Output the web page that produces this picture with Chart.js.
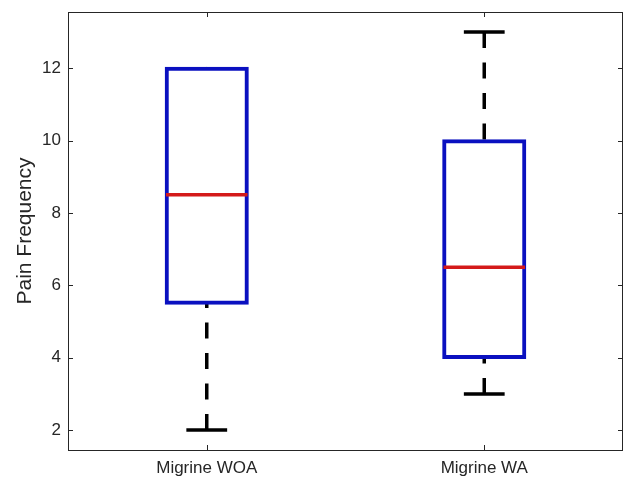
<!DOCTYPE html>
<html>
<head>
<meta charset="utf-8">
<script src="https://cdn.jsdelivr.net/npm/chart.js@4"></script>
<style>
  html, body { margin: 0; padding: 0; background: #fff; }
  #wrap { width: 627px; height: 479px; }
</style>
</head>
<body>
<div id="wrap"><canvas id="grafico" width="627" height="479"></canvas></div>
<script>
const categorias = ['Migrine WOA', 'Migrine WA'];
const quartil1 = [5.5, 4];
const quartil3 = [12, 10];
const mediana = [8.5, 6.5];
const bigodeMin = [2, 3];
const bigodeMax = [12, 13];
const yTicks = [2, 4, 6, 8, 10, 12];

const corEixo = '#262626';

// desenha bigodes (antes das caixas), mediana, moldura e ticks internos
const boxplotPlugin = {
  id: 'boxplot',
  beforeDatasetsDraw(chart) {
    const { ctx, scales: { x, y } } = chart;
    const meta = chart.getDatasetMeta(0);
    ctx.save();
    ctx.strokeStyle = '#000';
    ctx.lineWidth = 3.5;
    categorias.forEach((c, i) => {
      const px = x.getPixelForValue(i);
      const w = meta.data[i].width;
      // linha tracejada, do cap ate a caixa
      ctx.setLineDash([16, 14.5]);
      ctx.beginPath();
      ctx.moveTo(px, y.getPixelForValue(bigodeMax[i]));
      ctx.lineTo(px, y.getPixelForValue(quartil3[i]));
      ctx.stroke();
      ctx.beginPath();
      ctx.moveTo(px, y.getPixelForValue(bigodeMin[i]));
      ctx.lineTo(px, y.getPixelForValue(quartil1[i]));
      ctx.stroke();
      // caps (so quando o bigode sai da caixa)
      ctx.setLineDash([]);
      ctx.beginPath();
      [bigodeMin[i], bigodeMax[i]].forEach(v => {
        if (v === quartil1[i] || v === quartil3[i]) return;
        const py = y.getPixelForValue(v);
        ctx.moveTo(px - w / 4, py);
        ctx.lineTo(px + w / 4, py);
      });
      ctx.stroke();
    });
    ctx.restore();
  },
  afterDatasetsDraw(chart) {
    const { ctx, chartArea: a, scales: { x, y } } = chart;
    const meta = chart.getDatasetMeta(0);
    ctx.save();
    ctx.strokeStyle = '#d41a1a';
    ctx.lineWidth = 3.5;
    categorias.forEach((c, i) => {
      const px = x.getPixelForValue(i);
      const w = meta.data[i].width;
      const py = y.getPixelForValue(mediana[i]);
      ctx.beginPath();
      ctx.moveTo(px - w / 2, py);
      ctx.lineTo(px + w / 2, py);
      ctx.stroke();
    });
    // moldura
    ctx.strokeStyle = corEixo;
    ctx.lineWidth = 1;
    ctx.strokeRect(a.left + 0.5, a.top + 0.5, a.right - a.left - 1, a.bottom - a.top);
    // ticks internos
    const t = 5;
    ctx.beginPath();
    y.ticks.forEach(tk => {
      const py = Math.round(y.getPixelForValue(tk.value)) + 0.5;
      ctx.moveTo(a.left, py); ctx.lineTo(a.left + t, py);
      ctx.moveTo(a.right, py); ctx.lineTo(a.right - t, py);
    });
    categorias.forEach((c, i) => {
      const px = Math.round(x.getPixelForValue(i)) + 0.5;
      ctx.moveTo(px, a.bottom); ctx.lineTo(px, a.bottom - t);
      ctx.moveTo(px, a.top); ctx.lineTo(px, a.top + t);
    });
    ctx.stroke();
    ctx.restore();
  }
};

new Chart(document.getElementById('grafico'), {
  type: 'bar',
  data: {
    labels: categorias,
    datasets: [{
      label: 'Pain Frequency',
      data: quartil1.map((q, i) => [q, quartil3[i]]),
      backgroundColor: 'rgba(0,0,0,0)',
      borderColor: '#0a10c0',
      borderWidth: 1.5,
      borderSkipped: false,
      inflateAmount: 1.25,
      barPercentage: 0.294,
      categoryPercentage: 1
    }]
  },
  options: {
    responsive: false,
    animation: false,
    layout: { padding: { top: 12, right: 4, left: 0, bottom: 0 } },
    plugins: {
      legend: { display: false },
      tooltip: { enabled: false }
    },
    scales: {
      x: {
        grid: { display: false, drawTicks: false },
        border: { display: false },
        ticks: { color: corEixo, font: { family: 'Liberation Sans', size: 17 }, padding: 8 },
        afterFit(scale) { scale.height = 29; }
      },
      y: {
        min: 1.45,
        max: 13.55,
        afterBuildTicks(scale) { scale.ticks = yTicks.map(v => ({ value: v })); },
        grid: { display: false, drawTicks: false },
        border: { display: false },
        ticks: { color: corEixo, font: { family: 'Liberation Sans', size: 17 }, padding: 7 },
        title: {
          display: true,
          text: 'Pain Frequency',
          color: corEixo,
          font: { family: 'Liberation Sans', size: 21 },
          padding: { top: 13, bottom: 0 }
        },
        afterFit(scale) {
          scale.width = 68;
          scale.paddingTop = 0;
          scale.paddingBottom = 0;
        }
      }
    }
  },
  plugins: [boxplotPlugin]
});
</script>
</body>
</html>
